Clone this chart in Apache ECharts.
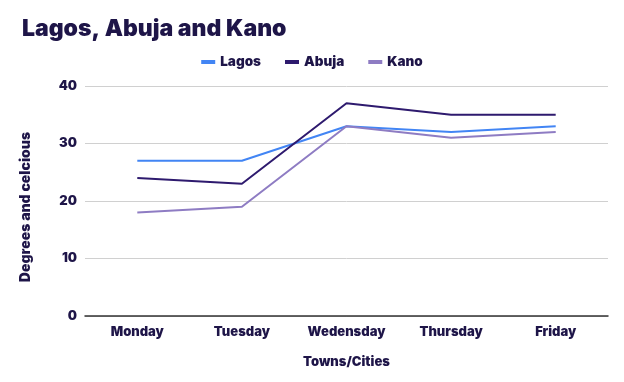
<!DOCTYPE html>
<html><head><meta charset="utf-8">
<script src="https://cdn.jsdelivr.net/npm/echarts@6/dist/echarts.min.js"></script>
<style>html,body{margin:0;padding:0;background:#fff}#c{width:624px;height:382px}</style>
</head><body><div id="c"></div>
<script>
const categories = ['Monday','Tuesday','Wedensday','Thursday','Friday'];
const lagos = [27, 27, 33, 32, 33];
const abuja = [24, 23, 37, 35, 35];
const kano = [18, 19, 33, 31, 32];
const seriesNames = ['Lagos','Abuja','Kano'];
const txt = '#1e1548';
const font = 'Inter';
const chart = echarts.init(document.getElementById('c'));
chart.setOption({
  animation:false,
  color:['#4285f4','#2e1a6e','#8e7cc3'],
  title:{text:'Lagos, Abuja and Kano', left:17, top:13, textStyle:{fontFamily:font, fontWeight:900, fontSize:23, color:txt}},
  legend:{top:50, left:'center', itemWidth:14, itemHeight:4, itemGap:24, icon:'rect',
    textStyle:{fontFamily:font, fontWeight:900, fontSize:13.5, color:txt}},
  grid:{left:85, right:16, top:86, bottom:66},
  xAxis:{type:'category', data:categories, boundaryGap:true,
    axisLine:{lineStyle:{color:'#333', width:1.5}}, axisTick:{show:false},
    axisLabel:{fontFamily:font, fontWeight:900, fontSize:13, color:txt, margin:10},
    name:'Towns/Cities', nameLocation:'middle', nameGap:40,
    nameTextStyle:{fontFamily:font, fontWeight:900, fontSize:13, color:txt}},
  yAxis:{type:'value', min:0, max:40, interval:10,
    axisLine:{show:false}, axisTick:{show:false},
    splitLine:{lineStyle:{color:'#d0d0d0'}},
    axisLabel:{fontFamily:font, fontWeight:900, fontSize:13, color:txt, margin:8},
    name:'Degrees and celcious', nameLocation:'middle', nameGap:52,
    nameTextStyle:{fontFamily:font, fontWeight:900, fontSize:14, color:txt, padding:[0,12,0,0]}},
  series:[
    {name:seriesNames[0], type:'line', data:lagos, symbol:'none', lineStyle:{width:2}},
    {name:seriesNames[1], type:'line', data:abuja, symbol:'none', lineStyle:{width:2}},
    {name:seriesNames[2], type:'line', data:kano, symbol:'none', lineStyle:{width:2}}
  ]
});
</script></body></html>
